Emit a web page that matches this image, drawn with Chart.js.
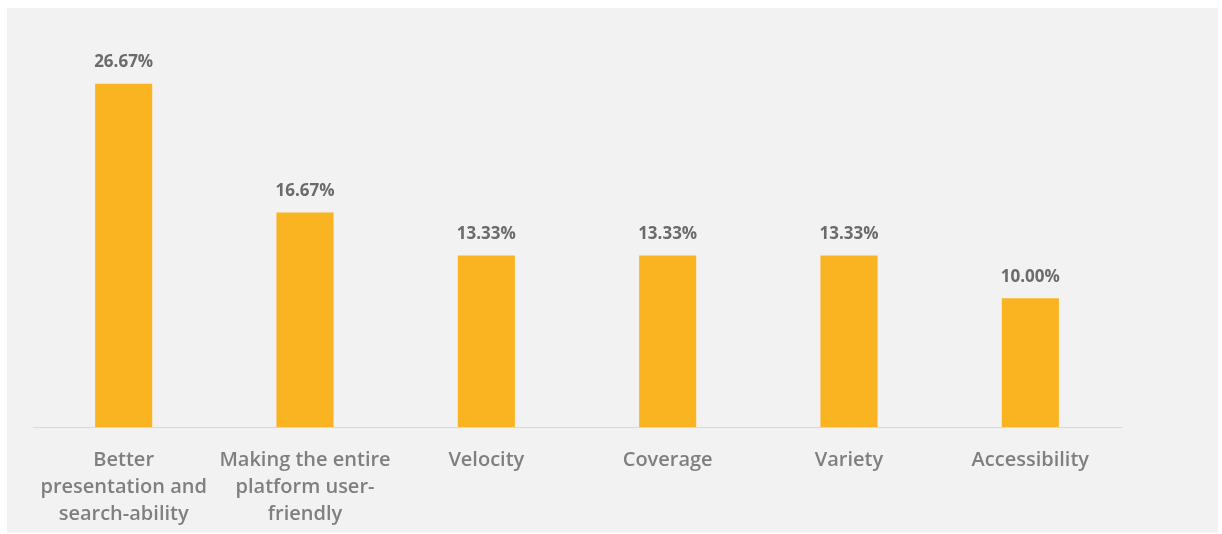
<!DOCTYPE html>
<html>
<head>
<meta charset="utf-8">
<script src="https://cdn.jsdelivr.net/npm/chart.js@4/dist/chart.umd.min.js"></script>
<style>
  html, body { margin: 0; padding: 0; background: #ffffff; }
  #frame {
    position: absolute;
    left: 7px; top: 8px;
    width: 1211px; height: 525px;
    background: #f2f2f2;
  }
  #wrap {
    position: absolute;
    left: 0; top: 0;
    width: 1222px; height: 534px;
  }
</style>
</head>
<body>
<div id="frame"></div>
<div id="wrap"><canvas id="bar-chart"></canvas></div>
<script>
// Chart values
const categories = [
  ['Better', 'presentation and', 'search-ability'],
  ['Making the entire', 'platform user-', 'friendly'],
  'Velocity',
  'Coverage',
  'Variety',
  'Accessibility'
];
const shares = [26.67, 16.67, 13.33, 13.33, 13.33, 10.00];

const BAR_COLOR = '#fbb421';

// Draws the percentage above every bar
const valueLabels = {
  id: 'valueLabels',
  afterDatasetsDraw(chart) {
    const ctx = chart.ctx;
    const meta = chart.getDatasetMeta(0);
    ctx.save();
    ctx.font = "bold 17px 'Open Sans', sans-serif";
    ctx.fillStyle = '#6b6b6b';
    ctx.textAlign = 'center';
    ctx.textBaseline = 'bottom';
    meta.data.forEach((bar, i) => {
      const v = chart.data.datasets[0].data[i];
      ctx.fillText(v.toFixed(2) + '%', bar.x, bar.y - 13);
    });
    ctx.restore();
  }
};

function initChart() {
  const ctx = document.getElementById('bar-chart');

  new Chart(ctx, {
    type: 'bar',
    data: {
      labels: categories,
      datasets: [{
        data: shares,
        backgroundColor: BAR_COLOR,
        barPercentage: 0.315,
        categoryPercentage: 1
      }]
    },
    options: {
      responsive: true,
      maintainAspectRatio: false,
      animation: false,
      layout: {
        padding: { left: 33, right: 101, top: 41, bottom: 0 }
      },
      plugins: {
        legend: { display: false },
        tooltip: { enabled: false }
      },
      scales: {
        x: {
          grid: { display: false },
          border: { display: true, color: '#d9d9d9', width: 1 },
          afterFit: (scale) => { scale.height = 107; },
          ticks: {
            color: '#7f7f7f',
            padding: 12,
            maxRotation: 0,
            autoSkip: false,
            font: { family: "'Open Sans', sans-serif", size: 20, weight: '600', lineHeight: 1.35 }
          }
        },
        y: {
          display: false,
          min: 0,
          max: 30
        }
      }
    },
    plugins: [valueLabels]
  });
}

initChart();
</script>
</body>
</html>
